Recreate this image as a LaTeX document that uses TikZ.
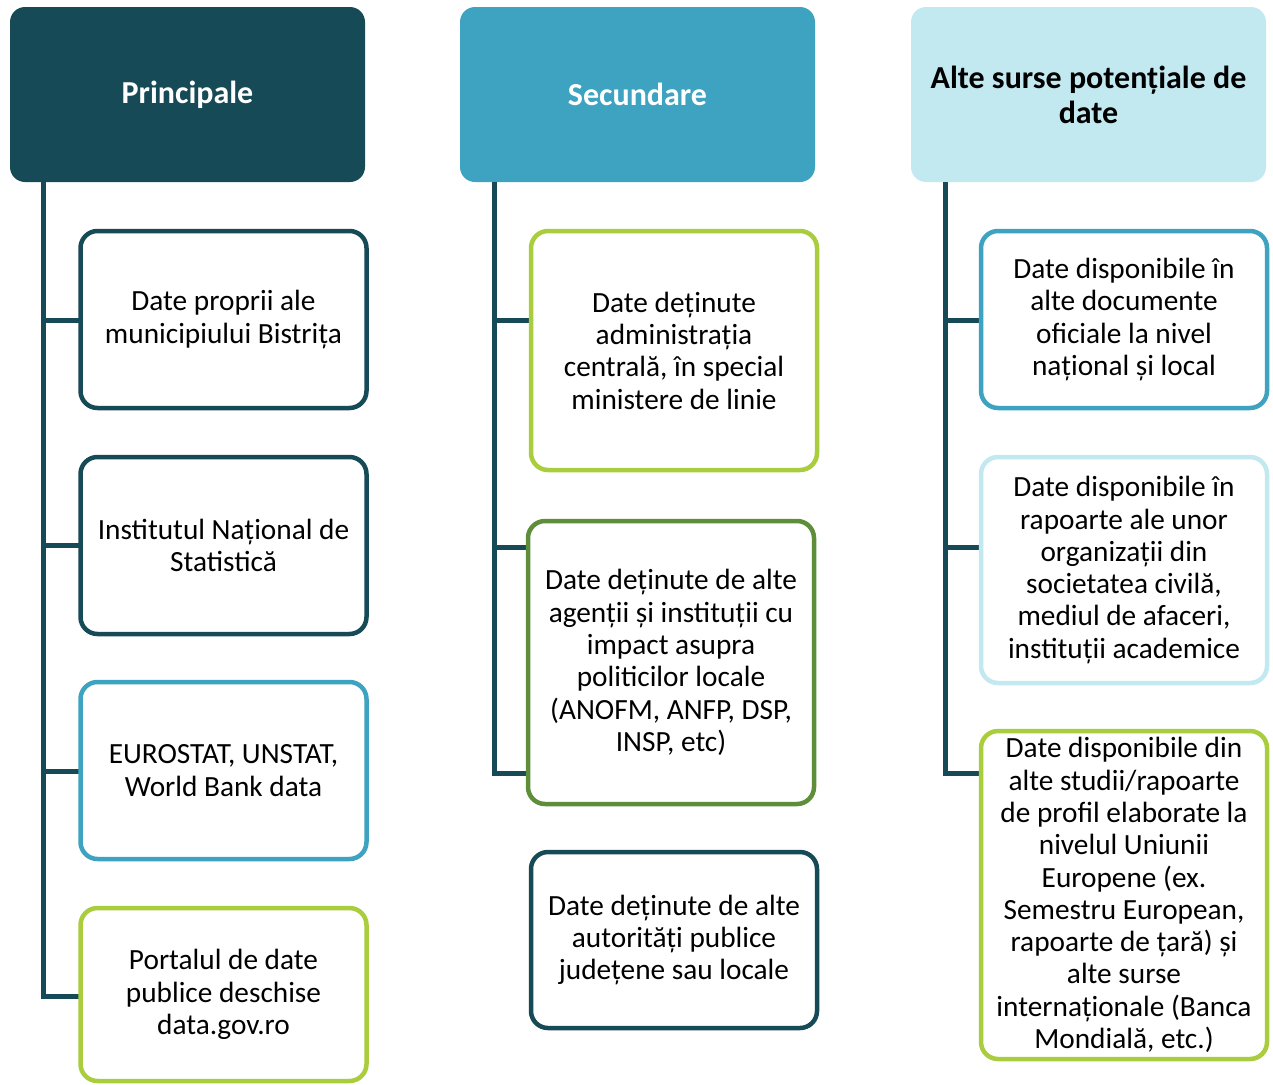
\documentclass[tikz,border=0pt]{standalone}
\usepackage{fontspec}
\setmainfont{Carlito}
\definecolor{dark}{HTML}{174A57}
\definecolor{midblue}{HTML}{3DA3C0}
\definecolor{lightblue}{HTML}{C2E8F0}
\definecolor{lime}{HTML}{A9CD3C}
\definecolor{olive}{HTML}{5F8E3A}
\begin{document}
\begin{tikzpicture}[x=1pt,y=-1pt,
  header/.style={rounded corners=15pt, inner sep=0pt, minimum width=355pt, minimum height=175pt,
    align=center, font=\fontsize{32}{35}\selectfont\bfseries},
  sbox/.style={draw=#1, line width=4.5pt, rounded corners=17pt, fill=white, inner sep=0pt,
    minimum width=286pt, align=center, font=\fontsize{29.3}{32.3}\selectfont},
  conn/.style={draw=dark, line width=5pt, line join=miter}]
\useasboundingbox (0,0) rectangle (1273,1084);
% headers
\node[header, fill=dark, text=white] (h1) at (187.5,94.5) {Principale};
\node[header, fill=midblue, text=white] (h2) at (637.5,94.5) {Secundare};
\node[header, fill=lightblue, text=black] (h3) at (1088.5,94.5) {Alte surse potențiale de\\date};
% trunk coordinates
\coordinate (t1) at (43,182);
\coordinate (t2) at (494,182);
\coordinate (t3) at (945,182);
\draw[conn] (t1) |- (80,996);
\draw[conn] (t1 |- 0,320) -- (80,320);
\draw[conn] (t1 |- 0,545) -- (80,545);
\draw[conn] (t1 |- 0,771) -- (80,771);
\draw[conn] (t2) |- (530,773);
\draw[conn] (t2 |- 0,320) -- (531,320);
\draw[conn] (t2 |- 0,547) -- (530,547);
\draw[conn] (t3) |- (981,773);
\draw[conn] (t3 |- 0,320) -- (981,320);
\draw[conn] (t3 |- 0,547) -- (981,547);
% column 1
\node[sbox=dark, minimum height=177pt] (a1) at (223.5,319.5) {Date proprii ale\\municipiului Bistrița};
\node[sbox=dark, minimum height=177pt] (a2) at (223.5,545.5) {Institutul Național de\\Statistică};
\node[sbox=midblue, minimum height=177pt] (a3) at (223.5,770.5) {EUROSTAT, UNSTAT,\\World Bank data};
\node[sbox=lime, minimum height=173pt] (a4) at (223.5,994.5) {Portalul de date\\publice deschise\\data.gov.ro};
% column 2
\node[sbox=lime, minimum height=239pt] (b1) at (674,350.5) {Date deținute\\administrația\\centrală, în special\\ministere de linie};
\node[sbox=olive, minimum height=283pt] (b2) at (671,662.5) {Date deținute de alte\\agenții și instituții cu\\impact asupra\\politicilor locale\\(ANOFM, ANFP, DSP,\\INSP, etc)};
\node[sbox=dark, minimum height=176pt] (b3) at (674,940) {Date deținute de alte\\autorități publice\\județene sau locale};
% column 3
\node[sbox=midblue, minimum height=177pt] (c1) at (1124,319.5) {Date disponibile în\\alte documente\\oficiale la nivel\\național și local};
\node[sbox=lightblue, minimum height=226pt] (c2) at (1124,570) {Date disponibile în\\rapoarte ale unor\\organizații din\\societatea civilă,\\mediul de afaceri,\\instituții academice};
\node[sbox=lime, minimum height=328pt] (c3) at (1124,895) {Date disponibile din\\alte studii/rapoarte\\de profil elaborate la\\nivelul Uniunii\\Europene (ex.\\Semestru European,\\rapoarte de țară) și\\alte surse\\internaționale (Banca\\Mondială, etc.)};
\end{tikzpicture}
\end{document}
